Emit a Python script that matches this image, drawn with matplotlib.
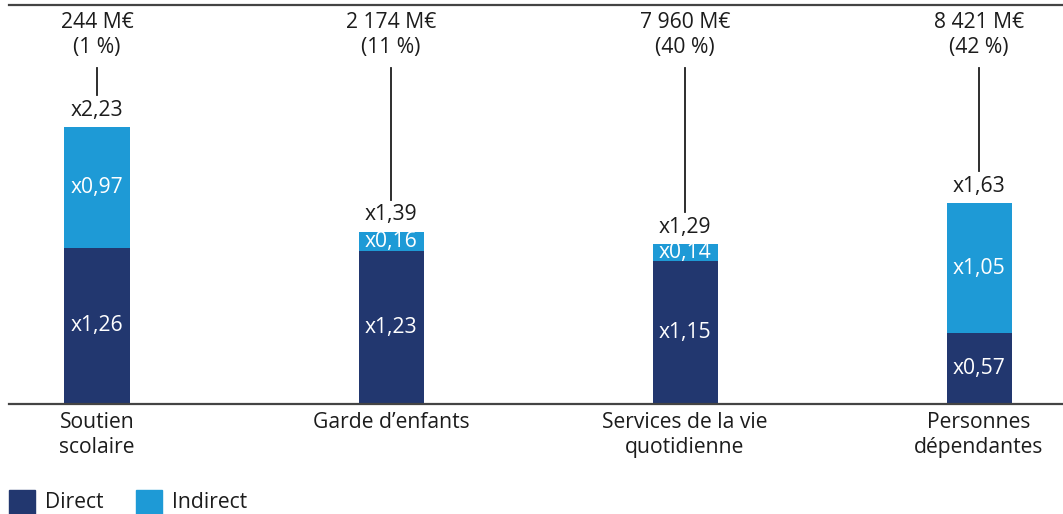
import matplotlib
matplotlib.use("Agg")
import matplotlib.pyplot as plt
from matplotlib.patches import Rectangle
from matplotlib.transforms import offset_copy, blended_transform_factory
from matplotlib.lines import Line2D

plt.rcParams["font.family"] = ["Open Sans", "DejaVu Sans"]

categories = ["Soutien\nscolaire", "Garde d\u2019enfants",
              "Services de la vie\nquotidienne", "Personnes\nd\u00e9pendantes"]
direct = [1.26, 1.23, 1.15, 0.57]
indirect = [0.97, 0.16, 0.14, 1.05]
totals = [2.23, 1.39, 1.29, 1.63]
amounts = ["244 M\u20ac", "2 174 M\u20ac", "7 960 M\u20ac", "8 421 M\u20ac"]
shares = ["(1 %)", "(11 %)", "(40 %)", "(42 %)"]

DARK = "#22376F"
LIGHT = "#1E9AD6"
TXT = "#1c1c1c"
FS = 15.2
LS = 1.28

W, H = 1063, 514
fig = plt.figure(figsize=(W / 100, H / 100), dpi=100)
ax = fig.add_axes([0, 0, 1, 1])
ax.set_axis_off()

# horizontal layout: bar spacing 294 px, first centre at 97 px
step = 294.0
x0 = -97 / step
ax.set_xlim(x0, x0 + W / step)
# vertical layout: 124 px per unit, baseline 110 px above bottom
ppu = 124.0
y0 = -110 / ppu
ax.set_ylim(y0, y0 + H / ppu)

xs = list(range(len(categories)))
bw = 65 / step
ax.bar(xs, direct, width=bw, color=DARK, label="Direct")
ax.bar(xs, indirect, width=bw, bottom=direct, color=LIGHT, label="Indirect")

fmt = lambda v: "x" + f"{v:.2f}".replace(".", ",")

for x, d, i, t, a, s, c in zip(xs, direct, indirect, totals, amounts, shares, categories):
    ax.text(x, d / 2, fmt(d), color="white", ha="center", va="center", fontsize=FS)
    ax.text(x, d + i / 2, fmt(i), color="white", ha="center", va="center", fontsize=FS)
    top = d + i
    tr = offset_copy(ax.transData, fig=fig, x=0, y=17, units="dots")
    ax.text(x, top, fmt(t), color=TXT, ha="center", va="center", fontsize=FS, transform=tr)
    # connector from the share label down to the total label
    y_line_bot = top + 32 / ppu
    y_line_top = (H - 68) / H
    bt = blended_transform_factory(ax.transData, fig.transFigure)
    y_bot_fig = ax.transData.transform((x, y_line_bot))[1] / H
    ax.add_line(Line2D([x, x], [y_bot_fig, y_line_top], transform=bt,
                       color=TXT, lw=1.3))
    fig.text(ax.transData.transform((x, 0))[0] / W, (H - 35) / H, a + "\n" + s,
             ha="center", va="center", fontsize=FS, color=TXT, linespacing=LS)
    fig.text(ax.transData.transform((x, 0))[0] / W, (H - 412) / H, c,
             ha="center", va="top", fontsize=FS, color=TXT, linespacing=LS)

# frame lines
fig.add_artist(Line2D([9 / W, 1], [(H - 5) / H] * 2, color="#444444", lw=1.6))
fig.add_artist(Line2D([9 / W, 1], [(H - 404) / H] * 2, color="#444444", lw=1.6))

# legend
for lx, tx, col, lab in [(9, 45, DARK, "Direct"), (136, 172, LIGHT, "Indirect")]:
    fig.add_artist(Rectangle((lx / W, 0 / H), 26 / W, 24 / H, color=col,
                             transform=fig.transFigure))
    fig.text(tx / W, (H - 503) / H, lab, ha="left", va="center", fontsize=FS, color=TXT)

fig.savefig("out.png", dpi=100)
